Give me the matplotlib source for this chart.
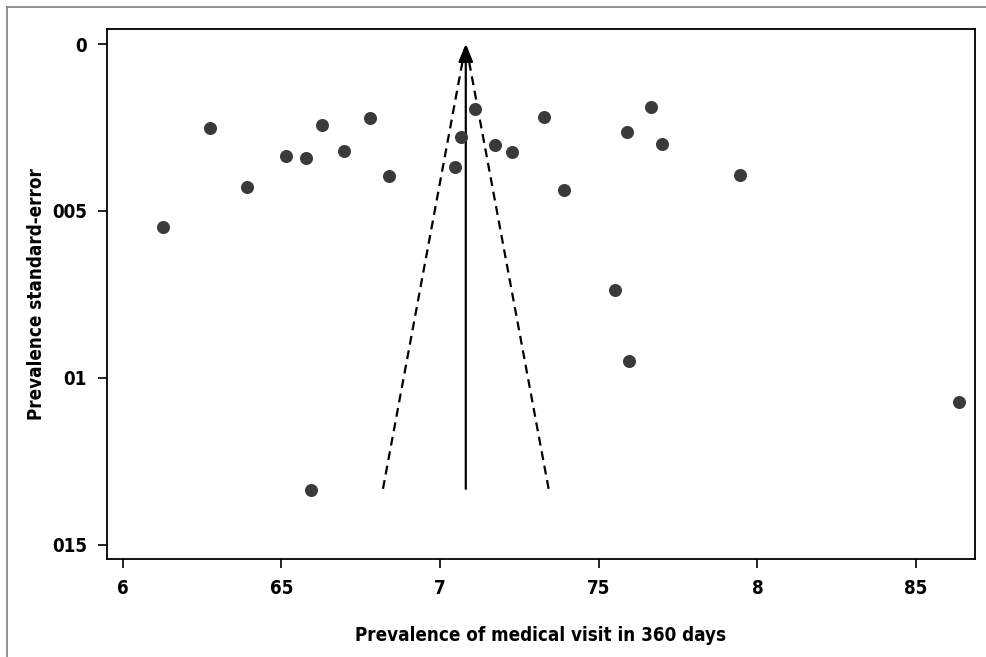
import numpy as np
import matplotlib
matplotlib.use("Agg")
import matplotlib.pyplot as plt
from matplotlib.lines import Line2D

# study prevalences and their standard errors
prevalence = [0.6127, 0.6275, 0.6390, 0.6514, 0.6577, 0.6627, 0.6697, 0.6779,
              0.6838, 0.7048, 0.7066, 0.7111, 0.7173, 0.7226, 0.7327, 0.7391,
              0.7552, 0.7589, 0.7595, 0.7665, 0.7700, 0.7946, 0.6592, 0.8636]
std_err = [0.00548, 0.00251, 0.00428, 0.00336, 0.00340, 0.00242, 0.00319, 0.00221,
           0.00395, 0.00369, 0.00279, 0.00195, 0.00302, 0.00324, 0.00218, 0.00438,
           0.00736, 0.00263, 0.00949, 0.00190, 0.00300, 0.00393, 0.01335, 0.01071]

pooled = 0.7081
se_max = 0.01332

x_ticks = [0.60, 0.65, 0.70, 0.75, 0.80, 0.85]
x_ticklabels = ['6', '65', '7', '75', '8', '85']
y_ticks = [0.0, 0.005, 0.01, 0.015]
y_ticklabels = ['0', '005', '01', '015']

plt.rcParams['font.family'] = ['DejaVu Sans']
plt.rcParams['font.stretch'] = 'condensed'
plt.rcParams['font.weight'] = 'bold'

fig = plt.figure(figsize=(9.87, 6.57), dpi=100)
ax = fig.add_axes([0.1084, 0.1492, 0.8794, 0.8067])

# gray frame around the figure
fig.add_artist(Line2D([7 / 987, 7 / 987], [0, 1 - 7 / 657], transform=fig.transFigure,
                      color='#8a8a8a', lw=1.3))
fig.add_artist(Line2D([7 / 987, 1], [1 - 7 / 657, 1 - 7 / 657], transform=fig.transFigure,
                      color='#8a8a8a', lw=1.3))

# funnel: pooled estimate +/- 1.96 * se
ax.plot([pooled - 1.96 * se_max, pooled], [se_max, 0], color='black', lw=1.6,
        linestyle=(0, (4, 2.6)))
ax.plot([pooled + 1.96 * se_max, pooled], [se_max, 0], color='black', lw=1.6,
        linestyle=(0, (4, 2.6)))
ax.annotate('', xy=(pooled, 0), xytext=(pooled, se_max),
            arrowprops=dict(arrowstyle='-|>,head_length=0.6,head_width=0.25',
                            color='black', lw=1.6, mutation_scale=18,
                            shrinkA=0, shrinkB=0))

ax.scatter(prevalence, std_err, s=88, color='#3a3a3a', zorder=3, linewidths=0)

ax.set_xlim(0.595, 0.8686)
ax.set_ylim(0.01542, -0.00045)
ax.set_xticks(x_ticks)
ax.set_xticklabels(x_ticklabels)
ax.set_yticks(y_ticks)
ax.set_yticklabels(y_ticklabels)
ax.tick_params(axis='both', length=6.5, width=1.2, labelsize=13.5, pad=8)

for s in ax.spines.values():
    s.set_linewidth(1.3)

ax.set_xlabel('Prevalence of medical visit in 360 days', fontsize=13.5,
              fontweight='bold', labelpad=20)
ax.set_ylabel('Prevalence standard-error', fontsize=13.5, fontweight='bold',
              labelpad=4)

plt.savefig('out.png', dpi=100)
